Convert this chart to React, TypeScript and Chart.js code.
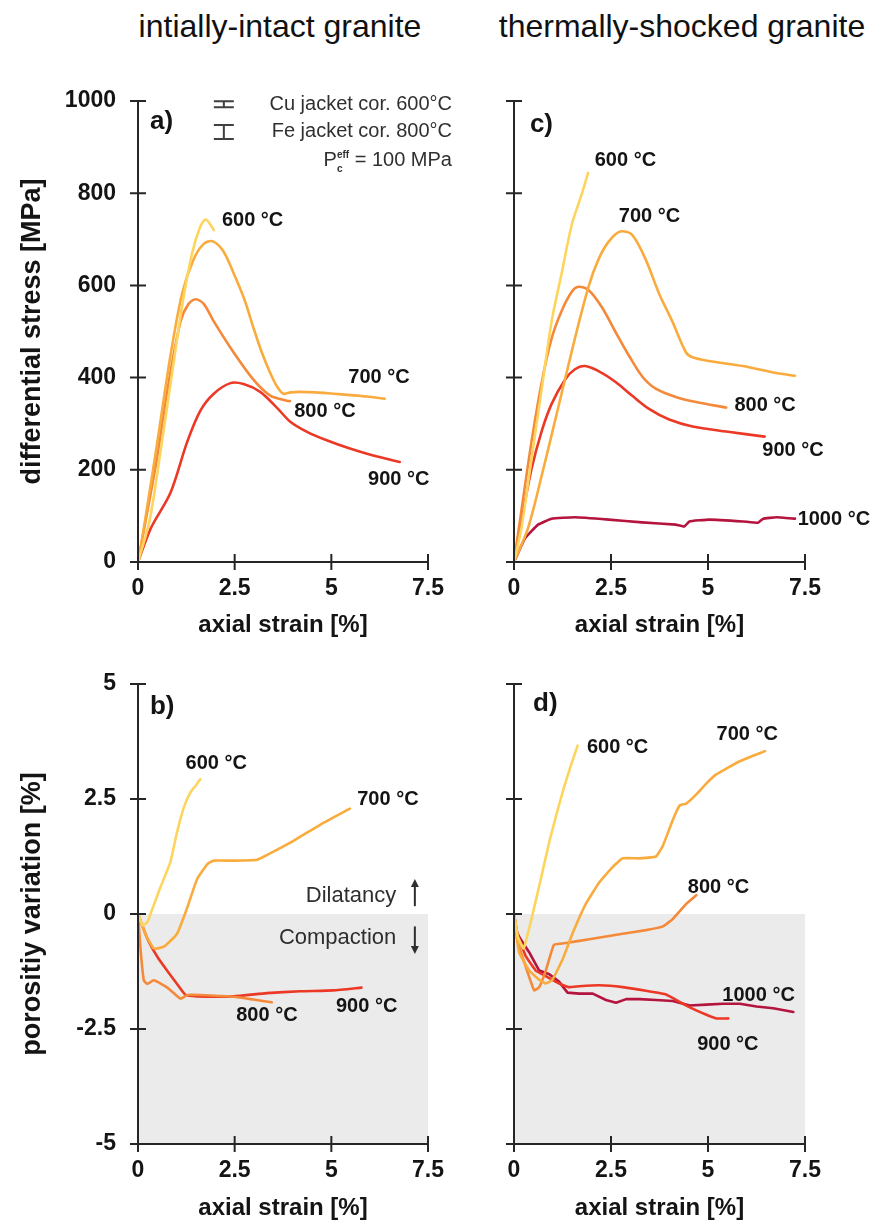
import React, { useEffect, useRef } from 'react';
import { Chart, registerables } from 'chart.js';

Chart.register(...registerables);

// ---------------- data ----------------
const STRAIN_TICKS = [0, 2.5, 5, 7.5];
const STRESS_TICKS = [0, 200, 400, 600, 800, 1000];
const POROSITY_TICKS = [-5, -2.5, 0, 2.5, 5];

// a) initially-intact granite, differential stress [MPa]
const a600Strain = [0, 0.3, 0.6, 0.9, 1.15, 1.4, 1.6, 1.75, 1.87, 1.96];
const a600Stress = [0, 90, 250, 420, 560, 670, 725, 743, 732, 720];
const a700Strain = [0, 0.15, 0.5, 0.84, 1.14, 1.44, 1.7, 1.92, 2.2, 2.47, 2.75, 2.99, 3.2, 3.42, 3.6, 3.76, 3.95, 4.19, 4.6, 5.05, 5.5, 5.91, 6.38];
const a700Stress = [0, 73, 260, 448, 582, 657, 690, 696, 675, 627, 570, 507, 455, 410, 380, 365, 368, 369, 368, 365, 362, 359, 354];
const a800Strain = [0, 0.2, 0.5, 0.76, 1.1, 1.31, 1.49, 1.7, 1.96, 2.47, 2.99, 3.42, 3.85, 3.93];
const a800Stress = [0, 90, 230, 373, 522, 560, 570, 560, 522, 455, 395, 361, 350, 349];
const a900Strain = [0, 0.33, 0.84, 1.27, 1.61, 1.96, 2.39, 2.73, 3.16, 3.59, 3.93, 4.36, 4.88, 5.48, 6.08, 6.77];
const a900Stress = [0, 73, 150, 260, 328, 365, 388, 386, 369, 335, 305, 283, 264, 246, 231, 217];

// c) thermally-shocked granite, differential stress [MPa]
const c600Strain = [0, 0.19, 0.45, 0.71, 0.97, 1.23, 1.49, 1.75, 1.91];
const c600Stress = [0, 73, 223, 373, 522, 627, 732, 799, 844];
const c700Strain = [0, 0.36, 0.71, 1.14, 1.57, 1.92, 2.18, 2.44, 2.74, 3.04, 3.39, 3.74, 4.08, 4.43, 4.6, 5.03, 5.9, 6.76, 7.24];
const c700Stress = [0, 73, 186, 335, 485, 597, 657, 695, 717, 710, 657, 582, 522, 455, 444, 436, 425, 410, 404];
const c800Strain = [0, 0.19, 0.45, 0.71, 0.97, 1.23, 1.49, 1.66, 1.92, 2.27, 2.61, 2.96, 3.3, 3.65, 4.17, 4.69, 5.47];
const c800Stress = [0, 111, 260, 388, 485, 545, 586, 597, 590, 552, 500, 448, 403, 376, 358, 347, 335];
const c900Strain = [0, 0.19, 0.45, 0.71, 0.97, 1.31, 1.57, 1.83, 2.18, 2.61, 3.04, 3.48, 4.0, 4.6, 5.47, 6.46];
const c900Stress = [0, 88, 201, 283, 343, 395, 418, 425, 414, 391, 361, 332, 309, 294, 283, 272];
const c1000Strain = [0, 0.28, 0.62, 0.97, 1.57, 2.44, 3.3, 4.17, 4.39, 4.52, 5.03, 5.9, 6.29, 6.42, 6.76, 7.24];
const c1000Stress = [0, 51, 81, 94, 97, 92, 86, 81, 77, 88, 92, 88, 85, 94, 97, 94];

// b) initially-intact granite, porosity variation [%]
const b600Strain = [0, 0.12, 0.24, 0.37, 0.58, 0.84, 1.01, 1.19, 1.36, 1.5, 1.61];
const b600Poro = [0, -0.25, -0.18, 0.11, 0.58, 1.14, 1.78, 2.33, 2.65, 2.8, 2.93];
const b700Strain = [0, 0.2, 0.41, 0.67, 1.01, 1.27, 1.53, 1.79, 1.96, 2.47, 3.08, 3.33, 4.02, 4.71, 5.48];
const b700Poro = [0, -0.45, -0.75, -0.71, -0.43, 0.13, 0.76, 1.08, 1.16, 1.16, 1.18, 1.28, 1.59, 1.94, 2.29];
const b800Strain = [0, 0.07, 0.15, 0.24, 0.41, 0.76, 1.1, 1.27, 1.61, 2.47, 2.99, 3.46];
const b800Poro = [0, -0.81, -1.44, -1.52, -1.44, -1.6, -1.84, -1.76, -1.76, -1.8, -1.86, -1.92];
const b900Strain = [0, 0.24, 0.5, 0.76, 1.01, 1.23, 1.53, 2.47, 3.33, 4.19, 5.05, 5.78];
const b900Poro = [0, -0.53, -0.93, -1.24, -1.52, -1.76, -1.79, -1.79, -1.72, -1.68, -1.66, -1.6];

// d) thermally-shocked granite, porosity variation [%]
const d600Strain = [0, 0.1, 0.25, 0.43, 0.65, 0.91, 1.08, 1.29, 1.47, 1.64];
const d600Poro = [0, -0.5, -0.75, -0.18, 0.61, 1.57, 2.12, 2.76, 3.24, 3.66];
const d700Strain = [0, 0.13, 0.39, 0.65, 0.82, 0.99, 1.25, 1.51, 1.85, 2.2, 2.54, 2.8, 3.23, 3.66, 3.84, 4.09, 4.27, 4.44, 4.7, 4.96, 5.22, 5.47, 5.82, 6.16, 6.47];
const d700Poro = [0, -0.83, -1.23, -1.43, -1.51, -1.43, -0.99, -0.42, 0.22, 0.69, 1.02, 1.21, 1.21, 1.25, 1.49, 2.04, 2.36, 2.4, 2.6, 2.84, 3.04, 3.16, 3.32, 3.44, 3.54];
const d800Strain = [0, 0.09, 0.3, 0.52, 0.65, 0.82, 1.03, 1.34, 1.94, 2.8, 3.4, 3.84, 4.09, 4.44, 4.7];
const d800Poro = [0, -0.59, -1.14, -1.66, -1.59, -1.23, -0.67, -0.63, -0.55, -0.43, -0.35, -0.27, -0.11, 0.22, 0.41];
const d900Strain = [0, 0.09, 0.3, 0.56, 0.82, 1.16, 1.42, 1.68, 2.2, 2.8, 3.4, 3.92, 4.44, 4.96, 5.22, 5.52];
const d900Poro = [0, -0.43, -0.91, -1.23, -1.35, -1.51, -1.59, -1.57, -1.55, -1.59, -1.67, -1.75, -1.99, -2.19, -2.27, -2.27];
const d1000Strain = [0, 0.04, 0.17, 0.39, 0.65, 0.91, 1.16, 1.38, 1.68, 2.03, 2.37, 2.63, 2.89, 3.23, 3.66, 4.09, 4.53, 4.96, 5.39, 5.82, 6.25, 6.68, 7.2];
const d1000Poro = [0, -0.35, -0.55, -0.83, -1.23, -1.31, -1.47, -1.71, -1.73, -1.73, -1.87, -1.93, -1.85, -1.85, -1.87, -1.89, -1.99, -1.97, -1.95, -1.95, -2.01, -2.05, -2.13];

// ---------------- styles ----------------
const FAMILY = "'Liberation Sans', Arial, Helvetica, sans-serif";
const C600 = '#FDD55E';
const C700 = '#F9AC3D';
const C800 = '#F5893A';
const C900 = '#EC3926';
const C1000 = '#B4143E';
const AXIS = '#262626';
const TEXT = '#141414';

type Series = { x: number[]; y: number[]; color: string; tension: number };
type Label = { t: string; x: number; y: number; size?: number };
type Spec = {
  key: string;
  box: [number, number, number, number];
  area: [number, number, number, number];
  yMin: number; yMax: number; yStep: number; yTicks: number[];
  yLabels: boolean; yTitle?: string;
  xTitlePad: number;
  shade: boolean; legend: boolean; dilatancy: boolean;
  series: Series[]; labels: Label[];
};

const PANELS: Spec[] = [
  {
    key: 'a', box: [0, 60, 470, 600], area: [138, 101, 428, 562],
    yMin: 0, yMax: 1000, yStep: 200, yTicks: STRESS_TICKS, yLabels: true, yTitle: 'differential stress [MPa]',
    xTitlePad: 20, shade: false, legend: true, dilatancy: false,
    series: [
      { x: a600Strain, y: a600Stress, color: C600, tension: 0.3 },
      { x: a700Strain, y: a700Stress, color: C700, tension: 0.3 },
      { x: a800Strain, y: a800Stress, color: C800, tension: 0.3 },
      { x: a900Strain, y: a900Stress, color: C900, tension: 0.3 },
    ],
    labels: [
      { t: 'a)', x: 0.31, y: 955, size: 26 },
      { t: '600 °C', x: 2.17, y: 740 },
      { t: '700 °C', x: 5.44, y: 401 },
      { t: '800 °C', x: 4.04, y: 326 },
      { t: '900 °C', x: 5.95, y: 180 },
    ],
  },
  {
    key: 'c', box: [440, 60, 434, 600], area: [514, 101, 805, 562],
    yMin: 0, yMax: 1000, yStep: 200, yTicks: STRESS_TICKS, yLabels: false,
    xTitlePad: 20, shade: false, legend: false, dilatancy: false,
    series: [
      { x: c600Strain, y: c600Stress, color: C600, tension: 0.3 },
      { x: c700Strain, y: c700Stress, color: C700, tension: 0.3 },
      { x: c800Strain, y: c800Stress, color: C800, tension: 0.3 },
      { x: c900Strain, y: c900Stress, color: C900, tension: 0.3 },
      { x: c1000Strain, y: c1000Stress, color: C1000, tension: 0.1 },
    ],
    labels: [
      { t: 'c)', x: 0.41, y: 948, size: 26 },
      { t: '600 °C', x: 2.08, y: 870 },
      { t: '700 °C', x: 2.7, y: 749 },
      { t: '800 °C', x: 5.68, y: 339 },
      { t: '900 °C', x: 6.4, y: 242 },
      { t: '1000 °C', x: 7.31, y: 92 },
    ],
  },
  {
    key: 'b', box: [0, 640, 470, 584], area: [138, 684, 428, 1144],
    yMin: -5, yMax: 5, yStep: 2.5, yTicks: POROSITY_TICKS, yLabels: true, yTitle: 'porositiy variation [%]',
    xTitlePad: 1, shade: true, legend: false, dilatancy: true,
    series: [
      { x: b600Strain, y: b600Poro, color: C600, tension: 0.15 },
      { x: b700Strain, y: b700Poro, color: C700, tension: 0.15 },
      { x: b800Strain, y: b800Poro, color: C800, tension: 0.15 },
      { x: b900Strain, y: b900Poro, color: C900, tension: 0.15 },
    ],
    labels: [
      { t: 'b)', x: 0.31, y: 4.5, size: 26 },
      { t: '600 °C', x: 1.23, y: 3.27 },
      { t: '700 °C', x: 5.67, y: 2.48 },
      { t: '800 °C', x: 2.54, y: -2.2 },
      { t: '900 °C', x: 5.12, y: -2.0 },
    ],
  },
  {
    key: 'd', box: [440, 640, 434, 584], area: [514, 684, 805, 1144],
    yMin: -5, yMax: 5, yStep: 2.5, yTicks: POROSITY_TICKS, yLabels: false,
    xTitlePad: 1, shade: true, legend: false, dilatancy: false,
    series: [
      { x: d600Strain, y: d600Poro, color: C600, tension: 0.1 },
      { x: d700Strain, y: d700Poro, color: C700, tension: 0.1 },
      { x: d800Strain, y: d800Poro, color: C800, tension: 0.1 },
      { x: d900Strain, y: d900Poro, color: C900, tension: 0.1 },
      { x: d1000Strain, y: d1000Poro, color: C1000, tension: 0 },
    ],
    labels: [
      { t: 'd)', x: 0.49, y: 4.56, size: 26 },
      { t: '600 °C', x: 1.88, y: 3.63 },
      { t: '700 °C', x: 5.22, y: 3.9 },
      { t: '800 °C', x: 4.48, y: 0.57 },
      { t: '1000 °C', x: 5.37, y: -1.77 },
      { t: '900 °C', x: 4.72, y: -2.83 },
    ],
  },
];

function arrow(ctx: CanvasRenderingContext2D, x: number, yFrom: number, yTo: number) {
  const dir = yTo < yFrom ? -1 : 1;
  ctx.beginPath();
  ctx.moveTo(x, yFrom);
  ctx.lineTo(x, yTo - dir * 6);
  ctx.stroke();
  ctx.beginPath();
  ctx.moveTo(x, yTo);
  ctx.lineTo(x - 4, yTo - dir * 8);
  ctx.lineTo(x + 4, yTo - dir * 8);
  ctx.closePath();
  ctx.fill();
}

function makePlugin(spec: Spec) {
  return {
    id: 'frame_' + spec.key,
    beforeDatasetsDraw(chart: any) {
      if (!spec.shade) return;
      const { ctx } = chart;
      const xs = chart.scales.x;
      const ys = chart.scales.y;
      const x0 = xs.getPixelForValue(xs.min);
      const x1 = xs.getPixelForValue(xs.max);
      const y0 = ys.getPixelForValue(0);
      const y1 = ys.getPixelForValue(ys.min);
      ctx.save();
      ctx.fillStyle = '#EBEBEB';
      ctx.fillRect(x0, y0, x1 - x0, y1 - y0);
      ctx.restore();
    },
    afterDatasetsDraw(chart: any) {
      const { ctx } = chart;
      const xs = chart.scales.x;
      const ys = chart.scales.y;
      const x0 = xs.getPixelForValue(xs.min);
      const x1 = xs.getPixelForValue(xs.max);
      const yb = ys.getPixelForValue(ys.min);
      const yt = ys.getPixelForValue(ys.max);
      const T = 8;
      ctx.save();
      ctx.strokeStyle = AXIS;
      ctx.lineWidth = 2;
      ctx.lineCap = 'butt';
      ctx.beginPath();
      ctx.moveTo(x0, yt);
      ctx.lineTo(x0, yb);
      ctx.moveTo(x0, yb);
      ctx.lineTo(x1, yb);
      for (const t of xs.ticks) {
        const px = xs.getPixelForValue(t.value);
        ctx.moveTo(px, yb - T);
        ctx.lineTo(px, yb + T);
      }
      for (const t of ys.ticks) {
        const py = ys.getPixelForValue(t.value);
        ctx.moveTo(x0 - T, py);
        ctx.lineTo(x0 + T, py);
      }
      ctx.stroke();

      // curve labels
      ctx.fillStyle = TEXT;
      ctx.textBaseline = 'middle';
      ctx.textAlign = 'left';
      for (const l of spec.labels) {
        ctx.font = `bold ${l.size || 20}px ${FAMILY}`;
        ctx.fillText(l.t, xs.getPixelForValue(l.x), ys.getPixelForValue(l.y));
      }

      if (spec.legend) {
        const rx = xs.getPixelForValue(8.12);
        const yl1 = ys.getPixelForValue(993);
        const yl2 = ys.getPixelForValue(933);
        const yl3 = ys.getPixelForValue(870);
        ctx.fillStyle = '#303030';
        ctx.font = `20px ${FAMILY}`;
        ctx.textAlign = 'right';
        ctx.fillText('Cu jacket cor. 600°C', rx, yl1);
        ctx.fillText('Fe jacket cor. 800°C', rx, yl2);
        const rest = ' = 100 MPa';
        const wRest = ctx.measureText(rest).width;
        const wP = ctx.measureText('P').width;
        ctx.font = `bold 10px ${FAMILY}`;
        const wSup = Math.max(ctx.measureText('eff').width, ctx.measureText('c').width);
        const start = rx - wRest - wSup - wP;
        ctx.textAlign = 'left';
        ctx.fillText('eff', start + wP, yl3 - 6);
        ctx.fillText('c', start + wP, yl3 + 8);
        ctx.font = `20px ${FAMILY}`;
        ctx.fillText('P', start, yl3);
        ctx.textAlign = 'right';
        ctx.fillText(rest, rx, yl3);
        // error-bar symbols
        const cx = xs.getPixelForValue(2.22);
        ctx.strokeStyle = '#404040';
        ctx.lineWidth = 2;
        ctx.beginPath();
        ctx.moveTo(cx - 10, yl1 - 3); ctx.lineTo(cx + 10, yl1 - 3);
        ctx.moveTo(cx - 10, yl1 + 3); ctx.lineTo(cx + 10, yl1 + 3);
        ctx.moveTo(cx, yl1 - 4); ctx.lineTo(cx, yl1 + 4);
        ctx.moveTo(cx - 10, yl2 - 7); ctx.lineTo(cx + 10, yl2 - 7);
        ctx.moveTo(cx - 10, yl2 + 7); ctx.lineTo(cx + 10, yl2 + 7);
        ctx.moveTo(cx, yl2 - 7); ctx.lineTo(cx, yl2 + 7);
        ctx.stroke();
      }

      if (spec.dilatancy) {
        const rx = xs.getPixelForValue(6.68);
        ctx.fillStyle = '#2E2E2E';
        ctx.strokeStyle = '#2E2E2E';
        ctx.font = `22px ${FAMILY}`;
        ctx.textAlign = 'right';
        ctx.fillText('Dilatancy', rx, ys.getPixelForValue(0.39));
        ctx.fillText('Compaction', rx, ys.getPixelForValue(-0.53));
        const ax = xs.getPixelForValue(7.16);
        ctx.lineWidth = 2;
        arrow(ctx, ax, ys.getPixelForValue(0.17), ys.getPixelForValue(0.76));
        arrow(ctx, ax, ys.getPixelForValue(-0.27), ys.getPixelForValue(-0.87));
      }
      ctx.restore();
    },
  };
}

function Panel({ spec }: { spec: Spec }) {
  const ref = useRef<HTMLCanvasElement | null>(null);
  useEffect(() => {
    const canvas = ref.current;
    if (!canvas) return;
    const [bl, bt, bw, bh] = spec.box;
    const [al, at, ar, ab] = spec.area;
    const aLeft = al - bl;
    const aTop = at - bt;
    const aRight = ar - bl;
    const aBottom = ab - bt;
    const chart = new Chart(canvas, {
      type: 'line',
      data: {
        datasets: spec.series.map((s) => ({
          data: s.x.map((x, i) => ({ x, y: s.y[i] })),
          borderColor: s.color,
          backgroundColor: s.color,
          borderWidth: 2.6,
          pointRadius: 0,
          tension: s.tension,
          fill: false,
          borderCapStyle: 'round',
          borderJoinStyle: 'round',
        })),
      },
      options: {
        responsive: false,
        animation: false,
        devicePixelRatio: window.devicePixelRatio || 1,
        layout: { padding: { left: 0, top: aTop, right: bw - aRight, bottom: 0 } },
        plugins: {
          legend: { display: false },
          tooltip: { enabled: false },
          title: { display: false },
        },
        events: [],
        scales: {
          x: {
            type: 'linear',
            min: 0,
            max: 7.5,
            afterBuildTicks: (s: any) => { s.ticks = STRAIN_TICKS.map((v) => ({ value: v })); },
            afterFit: (s: any) => { s.height = bh - aBottom; },
            grid: { display: false, drawTicks: false },
            border: { display: false },
            ticks: {
              padding: 13,
              color: TEXT,
              font: { family: FAMILY, size: 23, weight: 'bold' },
              maxRotation: 0,
              autoSkip: false,
              callback: (v: any) => String(v),
            },
            title: {
              display: true,
              text: 'axial strain [%]',
              color: TEXT,
              font: { family: FAMILY, size: 24, weight: 'bold' },
              padding: { top: 0, bottom: spec.xTitlePad },
            },
          },
          y: {
            type: 'linear',
            min: spec.yMin,
            max: spec.yMax,
            afterBuildTicks: (s: any) => { s.ticks = spec.yTicks.map((v) => ({ value: v })); },
            afterFit: (s: any) => { s.width = aLeft; },
            grid: { display: false, drawTicks: false },
            border: { display: false },
            ticks: {
              display: spec.yLabels,
              padding: 22,
              color: TEXT,
              font: { family: FAMILY, size: 23, weight: 'bold' },
              callback: (v: any) => String(v),
            },
            title: {
              display: !!spec.yTitle,
              text: spec.yTitle || '',
              color: TEXT,
              font: { family: FAMILY, size: 27, weight: 'bold' },
              padding: { top: 16, bottom: 0 },
            },
          },
        },
      } as any,
      plugins: [makePlugin(spec)],
    });
    return () => chart.destroy();
  }, [spec]);
  const [bl, bt, bw, bh] = spec.box;
  return (
    <canvas
      ref={ref}
      width={bw}
      height={bh}
      style={{ position: 'absolute', left: bl, top: bt, width: bw, height: bh }}
    />
  );
}

const titleStyle = (cx: number): React.CSSProperties => ({
  position: 'absolute',
  left: cx,
  top: 6,
  transform: 'translateX(-50%)',
  whiteSpace: 'nowrap',
  fontFamily: "'Liberation Sans', Arial, sans-serif",
  fontSize: 32,
  lineHeight: '40px',
  color: '#111',
});

export default function App() {
  return (
    <div
      style={{
        position: 'absolute',
        left: 0,
        top: 0,
        width: 874,
        height: 1224,
        overflow: 'hidden',
        background: '#fff',
      }}
    >
      <div style={titleStyle(280)}>intially-intact granite</div>
      <div style={titleStyle(682)}>thermally-shocked granite</div>
      {PANELS.map((p) => (
        <Panel key={p.key} spec={p} />
      ))}
    </div>
  );
}
